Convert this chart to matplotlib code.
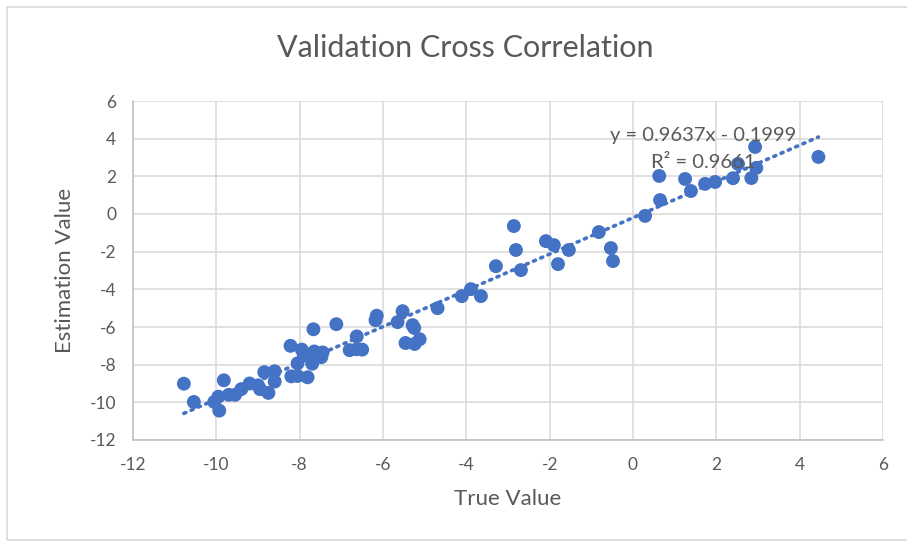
import numpy as np
import matplotlib
matplotlib.use("Agg")
import matplotlib.pyplot as plt
from matplotlib.patches import Rectangle

# values
true_vals = [-10.78, -10.54, -10.05, -9.93, -9.82, -9.95, -9.70, -9.55, -9.40, -9.20,
             -9.00, -8.95, -8.85, -8.75, -8.60, -8.60, -8.20, -8.22, -8.05, -8.05,
             -7.95, -7.90, -7.81, -7.70, -7.65, -7.67, -7.48, -7.45, -7.12, -6.80,
             -6.63, -6.63, -6.50, -6.18, -6.15, -5.65, -5.53, -5.46, -5.29, -5.24,
             -5.25, -5.12, -4.69, -4.11, -3.89, -3.65, -3.29, -2.86, -2.81, -2.69,
             -2.09, -1.90, -1.80, -1.54, -0.82, -0.53, -0.48, 0.29, 0.63, 0.65,
             1.25, 1.39, 1.73, 1.97, 2.40, 2.52, 2.84, 2.93, 2.96, 4.45]
est_vals = [-9.01, -9.98, -9.98, -10.44, -8.83, -9.70, -9.60, -9.60, -9.30, -9.00,
            -9.10, -9.30, -8.40, -9.50, -8.90, -8.35, -8.62, -7.00, -8.60, -7.93,
            -7.20, -7.50, -8.67, -7.95, -7.30, -6.12, -7.60, -7.35, -5.85, -7.23,
            -6.50, -7.18, -7.20, -5.64, -5.40, -5.74, -5.16, -6.85, -5.90, -6.90,
            -6.05, -6.65, -5.00, -4.36, -3.99, -4.36, -2.77, -0.64, -1.91, -2.98,
            -1.44, -1.65, -2.66, -1.91, -0.96, -1.81, -2.50, -0.10, 2.02, 0.74,
            1.86, 1.22, 1.60, 1.70, 1.90, 2.66, 1.91, 3.56, 2.45, 3.03]
slope = 0.9637
intercept = -0.1999
r_squared = 0.9661

title = "Validation Cross Correlation"
xlabel = "True Value"
ylabel = "Estimation Value"
ticks = [-12, -10, -8, -6, -4, -2, 0, 2, 4, 6]

blue = "#4472C4"
grey_text = "#595959"
grid_col = "#D9D9D9"

plt.rcParams['font.family'] = ['Lato', 'DejaVu Sans']
plt.rcParams['axes.unicode_minus'] = False

fig = plt.figure(figsize=(9.07, 5.47), dpi=100)
fig.patches.append(Rectangle((7 / 907, 7 / 547), 1.2, 1 - 14 / 547,
                             transform=fig.transFigure, fill=False,
                             edgecolor="#D9D9D9", linewidth=1.2))

ax = fig.add_axes([133 / 907, 1 - 440 / 547, 750 / 907, 339 / 547])

xs = np.array([min(true_vals), max(true_vals)])
ax.plot(xs, slope * xs + intercept, linestyle=(0, (0.6, 1.6)),
        dash_capstyle="round", color=blue, linewidth=2.6, zorder=2)
ax.scatter(true_vals, est_vals, s=100, color=blue, edgecolors="none", zorder=3)

ax.set_xlim(-12, 6)
ax.set_ylim(-12, 6)
ax.set_xticks(ticks)
ax.set_yticks(ticks)
ax.grid(True, color=grid_col, linewidth=1.1)
ax.set_axisbelow(True)
for side in ["top", "right"]:
    ax.spines[side].set_visible(False)
for side in ["left", "bottom"]:
    ax.spines[side].set_color("#BFBFBF")
    ax.spines[side].set_linewidth(1.1)
ax.tick_params(length=0, labelsize=12.5, colors=grey_text, pad=12)

ax.set_xlabel(xlabel, fontsize=16, color=grey_text, labelpad=12)
ax.set_ylabel(ylabel, fontsize=16, color=grey_text, labelpad=11)
fig.text(465 / 907, 1 - 48 / 547, title, fontsize=22, color=grey_text,
         ha="center", va="center")

ax.text(0.76, 1 - (136 - 101) / 339, "y = %.4fx - %.4f" % (slope, -intercept),
        transform=ax.transAxes, ha="center", va="center", fontsize=14.5,
        color=grey_text, zorder=4)
ax.text(0.76, 1 - (162 - 101) / 339, "R² = %.4f" % r_squared,
        transform=ax.transAxes, ha="center", va="center", fontsize=14.5,
        color=grey_text, zorder=4)

fig.savefig("out.png", dpi=100)
